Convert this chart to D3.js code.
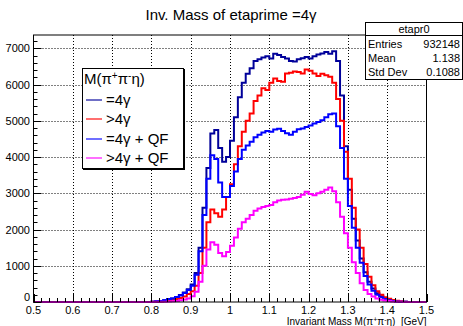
<!DOCTYPE html>
<html><head><meta charset="utf-8">
<script src="https://cdn.jsdelivr.net/npm/d3@7"></script>
<style>body{margin:0;background:#fff}svg{display:block;font-family:"Liberation Sans",Arial,sans-serif}</style>
</head><body><svg id="c" width="463" height="326"></svg>
<script>
// ---- data (bin width 0.01 GeV, from 0.50 to 1.50) ----
const binLo = 0.5, binW = 0.01;
const xTicks = [0.5,0.6,0.7,0.8,0.9,1.0,1.1,1.2,1.3,1.4,1.5];
const xTickLabels = ["0.5","0.6","0.7","0.8","0.9","1","1.1","1.2","1.3","1.4","1.5"];
const yTicks = [0,1000,2000,3000,4000,5000,6000,7000];
const seriesNames = ["=4γ", ">4γ", "=4γ + QF", ">4γ + QF"];
const seriesColors = ["#00009a", "#ff0000", "#0000ff", "#ff00ff"];
const zeros30 = new Array(30).fill(0);
const eq4g = zeros30.concat([10,20,30,50,80,100,140,190,260,350,
  480,800,1500,2600,3700,4650,4750,4250,3870,4000,
  4450,5100,5650,6050,6300,6450,6650,6700,6750,6780,
  6720,6850,6820,6760,6720,6650,6640,6700,6730,6760,
  6720,6780,6830,6860,6900,6850,6920,6650,5700,4300,
  3100,2300,1700,1200,820,560,370,240,160,100,
  60,35,20,10,5,0,0,0,0,0]);
const gt4g = zeros30.concat([5,10,15,25,40,60,80,110,150,220,
  300,450,800,1500,2200,2550,2450,2350,2550,2900,
  3250,3800,4300,4700,5000,5200,5550,5700,5900,5850,
  6050,6170,6100,6080,6310,6330,6360,6350,6310,6420,
  6380,6310,6240,6300,6260,6220,6050,5600,5000,4150,
  3400,2600,2000,1500,1050,700,460,300,200,130,
  90,55,35,20,10,0,0,0,0,0]);
const eq4gQF = zeros30.concat([10,20,30,50,80,100,140,180,250,330,
  450,750,1400,2400,3400,4050,3950,3300,2900,2900,
  3200,3600,3950,4200,4320,4420,4550,4620,4680,4720,
  4700,4760,4780,4720,4660,4620,4700,4770,4790,4830,
  4870,4930,4970,5020,5100,5180,5200,4850,4250,3400,
  2650,2050,1500,1080,720,480,310,200,130,80,
  50,30,15,8,4,0,0,0,0,0]);
const gt4gQF = zeros30.concat([0,5,5,10,15,20,30,45,70,100,
  160,280,560,1000,1450,1650,1580,1350,1260,1380,
  1550,1780,2020,2200,2300,2400,2520,2580,2620,2650,
  2680,2750,2800,2820,2830,2850,2870,2900,2960,3040,
  2980,2950,3000,3040,3100,3160,3060,2750,2350,1900,
  1500,1100,800,520,330,220,150,100,60,40,
  25,15,10,5,3,0,0,0,0,0]);
const seriesValues = [eq4g, gt4g, eq4gQF, gt4gQF];
const statsRows = [["Entries","932148"],["Mean","1.138"],["Std Dev","0.1088"]];

// ---- layout ----
const svg = d3.select("#c");
const L = 33.5, R = 426.5, T = 35, B = 302;
const x = d3.scaleLinear().domain([0.5,1.5]).range([L,R]);
const y = d3.scaleLinear().domain([0,7370]).range([B,T]);

// grid
const grid = svg.append("g").attr("stroke","#000").attr("stroke-width",1).attr("stroke-dasharray","1,2");
xTicks.slice(1,-1).forEach(t=>grid.append("line").attr("x1",Math.round(x(t))+0.5).attr("x2",Math.round(x(t))+0.5).attr("y1",T).attr("y2",B));
yTicks.slice(1).forEach(t=>grid.append("line").attr("x1",L).attr("x2",R).attr("y1",Math.round(y(t))+0.5).attr("y2",Math.round(y(t))+0.5));

// histograms
svg.append("clipPath").attr("id","clip").append("rect").attr("x",L).attr("y",T).attr("width",R-L).attr("height",B-T+1);
const line = d3.line().x(d=>x(d[0])).y(d=>y(d[1])).curve(d3.curveStepAfter);
seriesValues.forEach((vals,k)=>{
  const pts = vals.map((v,i)=>[binLo+i*binW, v]);
  pts.push([binLo+vals.length*binW, vals[vals.length-1]]);
  svg.append("path").attr("d",line(pts)).attr("fill","none")
    .attr("stroke",seriesColors[k]).attr("stroke-width",2).attr("clip-path","url(#clip)");
});

// frame
svg.append("rect").attr("x",L).attr("y",T).attr("width",R-L).attr("height",B-T)
  .attr("fill","none").attr("stroke","#000").attr("stroke-width",1);

// axis ticks (inside)
const ax = svg.append("g").attr("stroke","#000").attr("stroke-width",1);
d3.range(0,51).forEach(i=>{
  const v = 0.5 + i*0.02; const px = Math.round(x(v))+0.5;
  const len = (i%5===0)?8:4;
  ax.append("line").attr("x1",px).attr("x2",px).attr("y1",B).attr("y2",B-len);
});
d3.range(0,37).forEach(i=>{
  const v = i*200; const py = Math.round(y(v))+0.5;
  const len = (i%5===0)?8:4;
  ax.append("line").attr("x1",L).attr("x2",L+len).attr("y1",py).attr("y2",py);
});
xTicks.forEach((t,i)=>svg.append("text").attr("x",x(t)).attr("y",314).attr("text-anchor","middle")
  .attr("font-size",11).text(xTickLabels[i]));
yTicks.forEach(t=>svg.append("text").attr("x",30).attr("y",y(t)+(t===0?-1:4)).attr("text-anchor","end")
  .attr("font-size",11).text(t));

// axis title
const xt = svg.append("text").attr("x",R).attr("y",325).attr("text-anchor","end").attr("font-size",10);
xt.append("tspan").text("Invariant Mass M(π");
xt.append("tspan").attr("baseline-shift","super").attr("font-size",7).text("+");
xt.append("tspan").text("π");
xt.append("tspan").attr("baseline-shift","super").attr("font-size",7).text("-");
xt.append("tspan").attr("xml:space","preserve").text("η)  [GeV]");

// title
svg.append("text").attr("x",231).attr("y",20).attr("text-anchor","middle").attr("font-size",15).text("Inv. Mass of etaprime =4γ");

// stats box
const sb = svg.append("g");
sb.append("rect").attr("x",365.5).attr("y",22.5).attr("width",97).attr("height",57).attr("fill","#fff").attr("stroke","#000");
sb.append("line").attr("x1",365.5).attr("x2",462.5).attr("y1",35.5).attr("y2",35.5).attr("stroke","#000");
sb.append("text").attr("x",414).attr("y",33).attr("text-anchor","middle").attr("font-size",11).text("etapr0");
statsRows.forEach((r,i)=>{
  const yy = 48 + i*14;
  sb.append("text").attr("x",368).attr("y",yy).attr("font-size",11).text(r[0]);
  sb.append("text").attr("x",460).attr("y",yy).attr("text-anchor","end").attr("font-size",11).text(r[1]);
});

// legend
const lg = svg.append("g");
lg.append("rect").attr("x",82.5).attr("y",68.5).attr("width",101).attr("height",100).attr("fill","#fff").attr("stroke","#000");
lg.append("line").attr("x1",83).attr("x2",185).attr("y1",169.5).attr("y2",169.5).attr("stroke","#000");
lg.append("line").attr("x1",184.5).attr("x2",184.5).attr("y1",69).attr("y2",170).attr("stroke","#000");
const hd = lg.append("text").attr("x",84).attr("y",84).attr("font-size",15);
hd.append("tspan").text("M(π");
hd.append("tspan").attr("baseline-shift","super").attr("font-size",10).text("+");
hd.append("tspan").text("π");
hd.append("tspan").attr("baseline-shift","super").attr("font-size",10).text("-");
hd.append("tspan").text("η)");
const ly = [100,119,139,158];
seriesNames.forEach((n,k)=>{
  lg.append("line").attr("x1",86).attr("x2",102).attr("y1",ly[k]).attr("y2",ly[k])
    .attr("stroke",seriesColors[k]).attr("stroke-width",1.5).attr("opacity",0.75);
  lg.append("text").attr("x",106).attr("y",ly[k]+5).attr("font-size",15).text(n);
});
</script></body></html>
